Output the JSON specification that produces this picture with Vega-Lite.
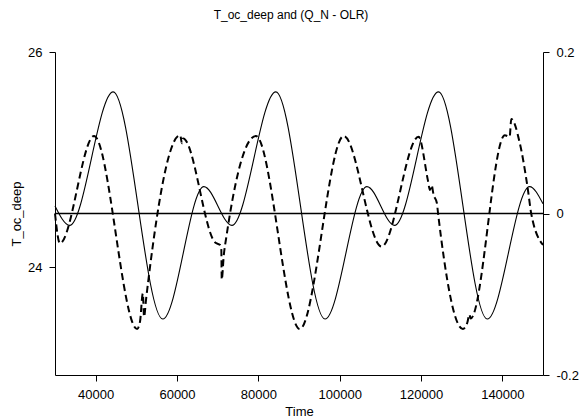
{
  "$schema": "https://vega.github.io/schema/vega-lite/v6.json",
  "width": 488,
  "height": 323,
  "autosize": {"type": "none"},
  "padding": {"left": 55, "top": 52, "right": 37, "bottom": 44},
  "background": "white",
  "title": {"text": "T_oc_deep and (Q_N - OLR)", "fontSize": 12, "fontWeight": "normal", "font": "Liberation Sans", "color": "black", "offset": 24, "dx": -8},
  "config": {
    "view": {"stroke": null},
    "axis": {"grid": false, "domainColor": "black", "tickColor": "black", "labelColor": "black", "titleColor": "black", "labelFont": "Liberation Sans", "titleFont": "Liberation Sans", "labelFontSize": 13, "titleFontSize": 13, "titleFontWeight": "normal", "tickSize": 6, "labelPadding": 7, "domainWidth": 1, "tickWidth": 1}
  },
  "datasets": {
    "temp": [
      {"Time": 30000, "T_oc_deep": 24.57},
      {"Time": 33600, "T_oc_deep": 24.39},
      {"Time": 44300, "T_oc_deep": 25.63},
      {"Time": 56500, "T_oc_deep": 23.52},
      {"Time": 66600, "T_oc_deep": 24.75},
      {"Time": 73500, "T_oc_deep": 24.39},
      {"Time": 84300, "T_oc_deep": 25.63},
      {"Time": 96400, "T_oc_deep": 23.52},
      {"Time": 106700, "T_oc_deep": 24.75},
      {"Time": 113500, "T_oc_deep": 24.39},
      {"Time": 124300, "T_oc_deep": 25.63},
      {"Time": 136300, "T_oc_deep": 23.52},
      {"Time": 146700, "T_oc_deep": 24.75},
      {"Time": 150000, "T_oc_deep": 24.59}
    ],
    "flux": [
      {"Time": 30000, "QN_OLR": 0.0},
      {"Time": 31200, "QN_OLR": -0.037},
      {"Time": 39600, "QN_OLR": 0.096},
      {"Time": 50200, "QN_OLR": -0.143},
      {"Time": 50900, "QN_OLR": -0.134},
      {"Time": 51600, "QN_OLR": -0.099},
      {"Time": 51900, "QN_OLR": -0.128},
      {"Time": 52400, "QN_OLR": -0.106},
      {"Time": 60800, "QN_OLR": 0.097},
      {"Time": 61200, "QN_OLR": 0.087},
      {"Time": 61500, "QN_OLR": 0.093},
      {"Time": 69400, "QN_OLR": -0.036},
      {"Time": 70600, "QN_OLR": -0.039},
      {"Time": 70900, "QN_OLR": -0.045},
      {"Time": 71000, "QN_OLR": -0.082},
      {"Time": 71500, "QN_OLR": -0.052},
      {"Time": 72200, "QN_OLR": -0.027},
      {"Time": 79400, "QN_OLR": 0.096},
      {"Time": 90200, "QN_OLR": -0.143},
      {"Time": 101000, "QN_OLR": 0.096},
      {"Time": 110300, "QN_OLR": -0.041},
      {"Time": 119400, "QN_OLR": 0.095},
      {"Time": 121700, "QN_OLR": 0.041},
      {"Time": 122200, "QN_OLR": 0.029},
      {"Time": 122600, "QN_OLR": 0.035},
      {"Time": 123100, "QN_OLR": 0.023},
      {"Time": 123900, "QN_OLR": 0.013},
      {"Time": 124200, "QN_OLR": 0.0},
      {"Time": 130300, "QN_OLR": -0.143},
      {"Time": 131400, "QN_OLR": -0.135},
      {"Time": 131900, "QN_OLR": -0.125},
      {"Time": 132200, "QN_OLR": -0.13},
      {"Time": 140600, "QN_OLR": 0.097},
      {"Time": 141800, "QN_OLR": 0.095},
      {"Time": 142200, "QN_OLR": 0.117},
      {"Time": 144300, "QN_OLR": 0.087},
      {"Time": 146300, "QN_OLR": 0.029},
      {"Time": 147100, "QN_OLR": 0.0},
      {"Time": 150000, "QN_OLR": -0.039}
    ],
    "zero": [{"v": 0}]
  },
  "layer": [
    {
      "data": {"name": "temp"},
      "mark": {"type": "line", "color": "black", "strokeWidth": 1.1, "interpolate": "monotone"},
      "encoding": {
        "x": {"field": "Time", "type": "quantitative", "scale": {"domain": [30000, 150000], "nice": false, "zero": false},
              "axis": {"values": [40000, 60000, 80000, 100000, 120000, 140000], "format": "d", "title": "Time", "titlePadding": 4, "labelFlush": false}},
        "y": {"field": "T_oc_deep", "type": "quantitative", "scale": {"domain": [23, 26], "nice": false, "zero": false},
              "axis": {"orient": "left", "values": [24, 26], "title": "T_oc_deep", "titlePadding": 4, "labelAngle": 0}}
      }
    },
    {
      "layer": [
        {
          "data": {"name": "flux"},
          "mark": {"type": "line", "color": "black", "strokeWidth": 2, "strokeDash": [7, 4], "interpolate": "monotone"},
          "encoding": {
            "x": {"field": "Time", "type": "quantitative"},
            "y": {"field": "QN_OLR", "type": "quantitative", "scale": {"domain": [-0.2, 0.2], "nice": false, "zero": false},
                  "axis": {"orient": "right", "values": [-0.2, 0, 0.2], "title": null, "labelExpr": "'' + datum.value"}}
          }
        },
        {
          "data": {"name": "zero"},
          "mark": {"type": "rule", "color": "black", "strokeWidth": 1.5},
          "encoding": {"y": {"field": "v", "type": "quantitative"}}
        }
      ]
    }
  ],
  "resolve": {"scale": {"y": "independent"}}
}
